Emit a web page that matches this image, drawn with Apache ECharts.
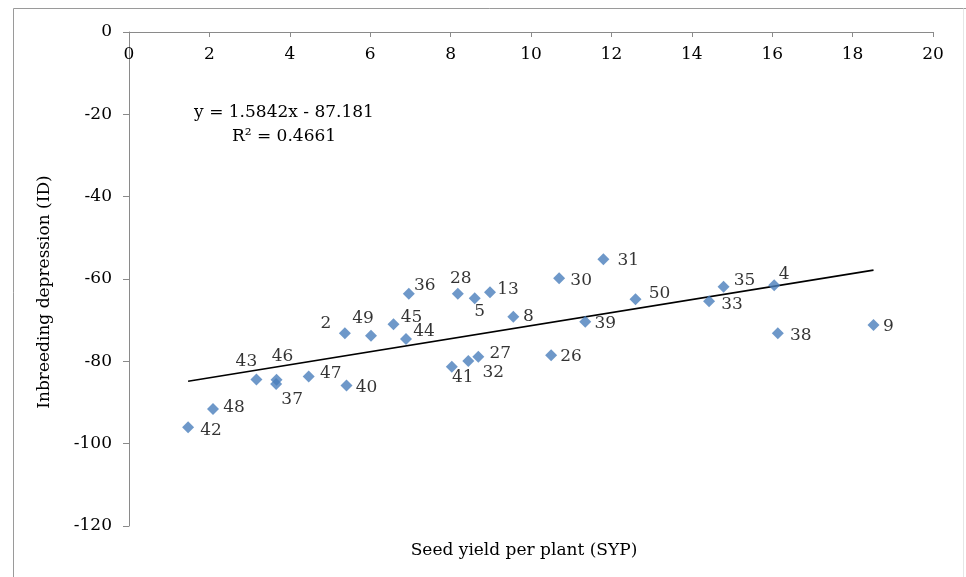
<!DOCTYPE html>
<html>
<head>
<meta charset="utf-8">
<script src="https://cdn.jsdelivr.net/npm/echarts@6/dist/echarts.min.js"></script>
<style>
  html, body { margin: 0; padding: 0; background: #ffffff; }
  #chart { width: 966px; height: 577px; }
</style>
</head>
<body>
<div id="chart"></div>
<script>
// Genotype numbers with seed yield per plant (SYP) and inbreeding depression (ID)
const genotypes = [42, 48, 43, 46, 37, 47, 40, 2, 49, 45, 44, 36, 28, 5, 13, 8, 30, 31, 50, 39, 26, 27, 32, 41, 35, 33, 4, 38, 9];
const syp = [1.47, 2.09, 3.17, 3.67, 3.66, 4.47, 5.41, 5.37, 6.02, 6.58, 6.89, 6.96, 8.18, 8.60, 8.98, 9.56, 10.70, 11.80, 12.60, 11.35, 10.50, 8.69, 8.44, 8.03, 14.79, 14.43, 16.05, 16.14, 18.52];
const inbreedingDepression = [-96.0, -91.6, -84.4, -84.5, -85.5, -83.7, -85.9, -73.2, -73.8, -71.0, -74.6, -63.6, -63.6, -64.7, -63.2, -69.2, -59.8, -55.2, -64.9, -70.4, -78.5, -78.9, -79.9, -81.3, -61.9, -65.4, -61.5, -73.2, -71.2];

// Linear trend fitted to the points
const slope = 1.5842;
const intercept = -87.181;
const rSquared = 0.4661;

// Axis ticks
const xTicks = { min: 0, max: 20, step: 2 };
const yTicks = { min: -120, max: 0, step: 20 };

// Where each genotype's number sits relative to its marker (pixels)
const labelOffsets = {
  42: [23, 3], 48: [21, -2], 43: [-10, -18], 46: [6, -23], 37: [16, 16],
  47: [22, -3], 40: [20, 2], 2: [-19, -10], 49: [-8, -17], 45: [18, -7],
  44: [18, -8], 36: [16, -8], 28: [3, -15], 5: [5, 13], 13: [18, -3],
  8: [15, 0], 30: [22, 2], 31: [25, 1], 50: [24, -6], 39: [20, 2],
  26: [20, 1], 27: [22, -3], 32: [25, 12], 41: [11, 11], 35: [21, -6],
  33: [23, 3], 4: [10, -11], 38: [23, 2], 9: [15, 1]
};

const FONT = '"DejaVu Serif", serif';
const TEXT = '#000000';
const axisGray = '#8a8a8a';

const points = genotypes.map((g, i) => ({
  value: [syp[i], inbreedingDepression[i], g],
  label: { offset: labelOffsets[g] || [18, 0] }
}));

const xMin = Math.min(...syp);
const xMax = Math.max(...syp);
const trend = [xMin, xMax].map(x => [x, slope * x + intercept]);

const chart = echarts.init(document.getElementById('chart'), null, { renderer: 'canvas' });

chart.setOption({
  backgroundColor: '#ffffff',
  animation: false,
  grid: { left: 129, top: 32, right: 33, bottom: 51, containLabel: false },
  xAxis: {
    type: 'value',
    position: 'top',
    min: xTicks.min, max: xTicks.max, interval: xTicks.step,
    axisLine: { onZero: false, lineStyle: { color: axisGray, width: 1 } },
    axisTick: { inside: true, length: 5, lineStyle: { color: axisGray } },
    axisLabel: { inside: true, margin: 14, color: TEXT, fontFamily: FONT, fontSize: 17 },
    splitLine: { show: false }
  },
  yAxis: {
    type: 'value',
    min: yTicks.min, max: yTicks.max, interval: yTicks.step,
    axisLine: { show: true, onZero: false, lineStyle: { color: axisGray, width: 1 } },
    axisTick: { show: true, length: 6, lineStyle: { color: axisGray } },
    axisLabel: { margin: 17, color: TEXT, fontFamily: FONT, fontSize: 17 },
    splitLine: { show: false }
  },
  series: [
    {
      type: 'line',
      data: trend,
      symbol: 'none',
      lineStyle: { color: '#000000', width: 1.6 },
      silent: true,
      z: 2
    },
    {
      type: 'scatter',
      data: points,
      symbol: 'diamond',
      symbolSize: 12,
      itemStyle: { color: '#4a7ebb' },
      label: {
        show: true,
        position: 'inside',
        align: 'center',
        verticalAlign: 'middle',
        formatter: p => String(p.value[2]),
        color: TEXT,
        fontFamily: FONT,
        fontSize: 17
      },
      z: 3
    }
  ],
  graphic: [
    // outer frame
    { type: 'line', shape: { x1: 13.5, y1: 8.5, x2: 966, y2: 8.5 }, style: { stroke: '#9a9a9a', lineWidth: 1 }, silent: true },
    { type: 'line', shape: { x1: 13.5, y1: 8.5, x2: 13.5, y2: 577 }, style: { stroke: '#9a9a9a', lineWidth: 1 }, silent: true },
    { type: 'line', shape: { x1: 963.5, y1: 8.5, x2: 963.5, y2: 577 }, style: { stroke: '#e6e6e6', lineWidth: 1 }, silent: true },
    // trend equation
    {
      type: 'text', x: 284, y: 113,
      style: { text: 'y = ' + slope + 'x - ' + Math.abs(intercept), fill: TEXT, font: '17px ' + FONT, align: 'center', verticalAlign: 'middle' }
    },
    {
      type: 'text', x: 284, y: 137,
      style: { text: 'R\u00b2 = ' + rSquared, fill: TEXT, font: '17px ' + FONT, align: 'center', verticalAlign: 'middle' }
    },
    // axis titles
    {
      type: 'text', x: 524, y: 551,
      style: { text: 'Seed yield per plant (SYP)', fill: TEXT, font: '17px ' + FONT, align: 'center', verticalAlign: 'middle' }
    },
    {
      type: 'text', x: 45, y: 292, rotation: Math.PI / 2,
      style: { text: 'Inbreeding depression (ID)', fill: TEXT, font: '17px ' + FONT, align: 'center', verticalAlign: 'middle' }
    }
  ]
});
</script>
</body>
</html>
